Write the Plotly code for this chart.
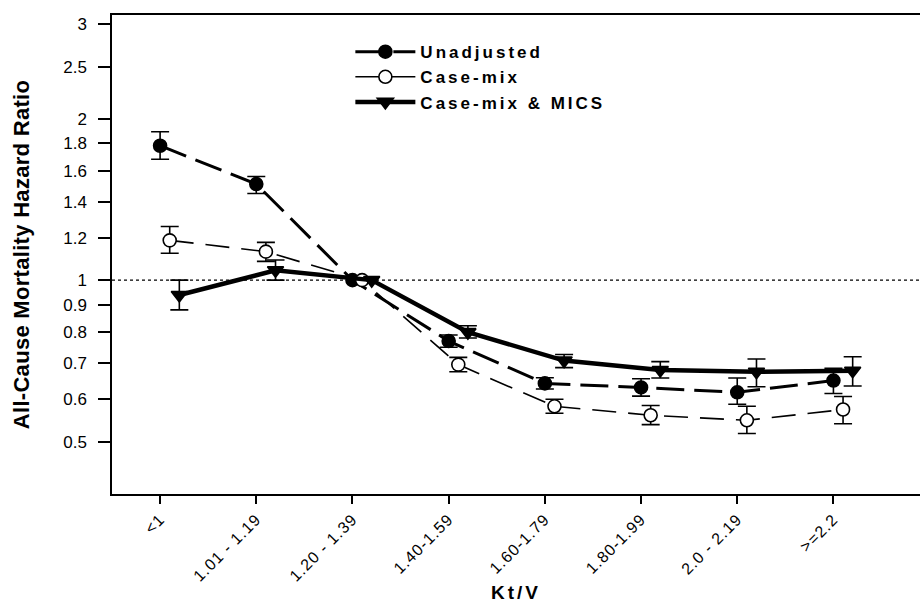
import plotly.graph_objects as go

categories = ["<1", "1.01 - 1.19", "1.20 - 1.39", "1.40-1.59", "1.60-1.79",
              "1.80-1.99", "2.0 - 2.19", ">=2.2"]
y_ticks = [0.5, 0.6, 0.7, 0.8, 0.9, 1, 1.2, 1.4, 1.6, 1.8, 2, 2.5, 3]
y_tick_text = ["0.5", "0.6", "0.7", "0.8", "0.9", "1", "1.2", "1.4", "1.6", "1.8", "2", "2.5", "3"]
reference_index = 2

unadj_hr = [1.78, 1.51, 1.00, 0.77, 0.642, 0.631, 0.618, 0.650]
unadj_lo = [1.68, 1.45, 1.00, 0.75, 0.627, 0.608, 0.587, 0.615]
unadj_hi = [1.89, 1.56, 1.00, 0.79, 0.658, 0.655, 0.657, 0.685]

cm_hr = [1.186, 1.13, 1.00, 0.696, 0.582, 0.560, 0.548, 0.574]
cm_lo = [1.122, 1.084, 1.00, 0.675, 0.565, 0.538, 0.518, 0.540]
cm_hi = [1.259, 1.176, 1.00, 0.718, 0.600, 0.584, 0.582, 0.607]

mics_hr = [0.938, 1.043, 1.00, 0.800, 0.708, 0.680, 0.675, 0.678]
mics_lo = [0.880, 1.000, 1.00, 0.780, 0.687, 0.657, 0.633, 0.635]
mics_hi = [1.000, 1.090, 1.00, 0.822, 0.727, 0.705, 0.713, 0.720]

series = [
    dict(name="Unadjusted", hr=unadj_hr, lo=unadj_lo, hi=unadj_hi, offset=0.0,
         dash="28px,10px", lw=3, symbol="circle", fill="black", size=13),
    dict(name="Case-mix", hr=cm_hr, lo=cm_lo, hi=cm_hi, offset=0.1,
         dash="24px,12px", lw=1.6, symbol="circle", fill="white", size=13),
    dict(name="Case-mix &amp; MICS", hr=mics_hr, lo=mics_lo, hi=mics_hi, offset=0.2,
         dash="solid", lw=4.5, symbol="triangle-down", fill="black", size=14),
]

font_family = "Liberation Sans, Arial, sans-serif"


def spaced(text, px):
    return '<span style="letter-spacing:%.1fpx">%s</span>' % (px, text)


fig = go.Figure()

# error bars first (not on reference category)
for s in series:
    idx = [i for i in range(len(categories)) if i != reference_index]
    xs = [i + s["offset"] for i in idx]
    ys = [s["hr"][i] for i in idx]
    up = [s["hi"][i] - s["hr"][i] for i in idx]
    dn = [s["hr"][i] - s["lo"][i] for i in idx]
    fig.add_trace(go.Scatter(
        x=xs, y=ys, mode="markers", showlegend=False, hoverinfo="skip",
        marker=dict(size=1, opacity=0),
        error_y=dict(type="data", array=up, arrayminus=dn, symmetric=False,
                     color="black", thickness=1.6, width=9),
    ))

for k, s in enumerate(series):
    xs = [i + s["offset"] for i in range(len(categories))]
    fig.add_trace(go.Scatter(
        x=xs, y=s["hr"], mode="lines+markers",
        name=spaced(s["name"], 3.0),
        legendgroup="g%d" % k,
        line=dict(color="black", width=s["lw"], dash=s["dash"]),
        marker=dict(symbol=s["symbol"], size=s["size"], color=s["fill"],
                    line=dict(color="black", width=1.6)),
    ))

fig.add_shape(type="line", xref="paper", yref="y", x0=0, x1=1, y0=1, y1=1,
              line=dict(color="black", width=1.3, dash="dot"), layer="below")

fig.update_layout(
    width=920, height=603,
    margin=dict(l=112, r=0, t=15, b=109, autoexpand=False),
    paper_bgcolor="white", plot_bgcolor="white",
    font=dict(family=font_family, size=17, color="black"),
    showlegend=True,
    legend=dict(x=0.295, y=0.96, xanchor="left", yanchor="top",
                bgcolor="rgba(0,0,0,0)", borderwidth=0, tracegroupgap=0,
                itemwidth=60,
                font=dict(family=font_family, size=17, color="black", weight="bold")),
    xaxis=dict(
        range=[-0.5, 7.9], tickmode="array", tickvals=list(range(len(categories))),
        ticktext=[spaced(c, 1.0) for c in categories], tickangle=-45,
        ticks="outside", ticklen=8, automargin=False,
        tickwidth=1.5, tickcolor="black", showline=True, linecolor="black",
        linewidth=1.5, mirror=True, showgrid=False, zeroline=False,
        tickfont=dict(size=16),
        title=dict(text=spaced("Kt/V", 3.0),
                   font=dict(size=19, weight="bold"), standoff=4),
    ),
    yaxis=dict(
        type="log", range=[-0.3985, 0.494], tickmode="array", tickvals=y_ticks,
        ticktext=y_tick_text, ticks="outside", ticklen=12, tickwidth=1.5,
        tickcolor="black", showline=True, linecolor="black", linewidth=1.5,
        mirror=False, showgrid=False, zeroline=False, tickfont=dict(size=17),
        ticklabelstandoff=8, automargin=False,
        title=dict(text=spaced("All-Cause Mortality Hazard Ratio", 0.3),
                   font=dict(size=22, weight="bold"), standoff=28),
    ),
)

fig.write_html("out.html", config={"displayModeBar": False},
               post_script="document.body.style.margin='0';document.body.style.overflow='hidden';")
